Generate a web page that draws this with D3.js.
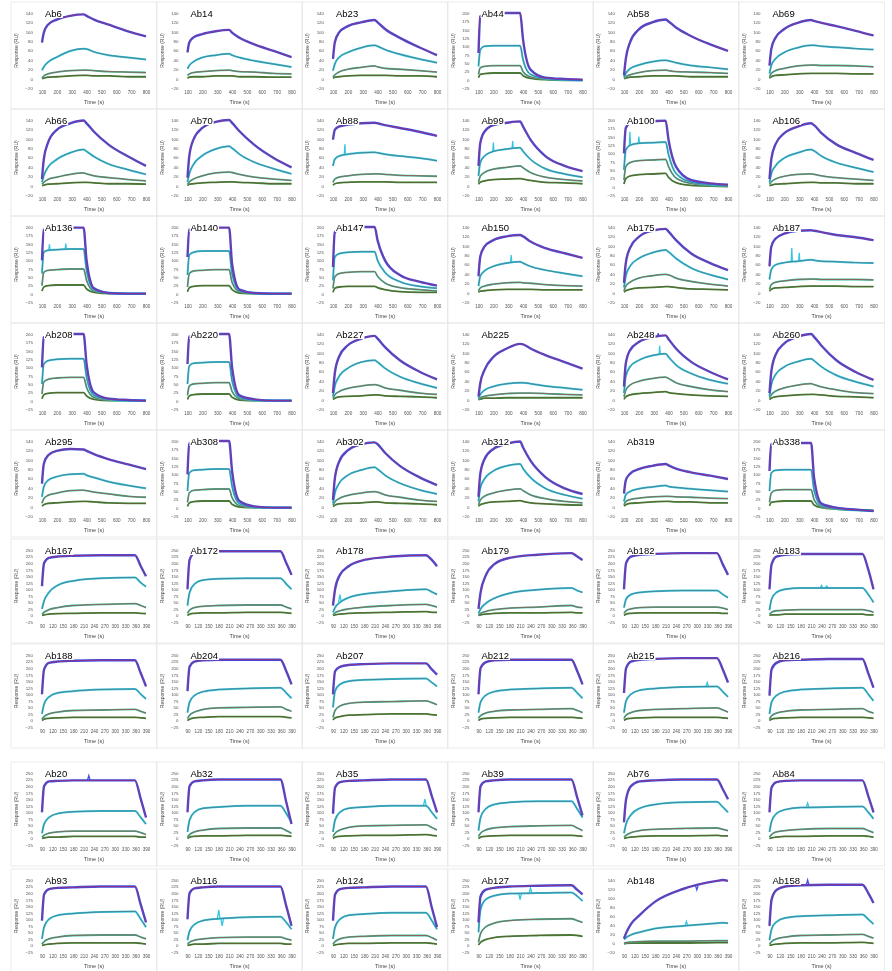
<!DOCTYPE html>
<html>
<head>
<meta charset="utf-8">
<script src="https://cdn.jsdelivr.net/npm/d3@7"></script>
<style>
  body { margin: 0; background: #fff; }
  svg { font-family: "Liberation Sans", Arial, sans-serif; filter: blur(0.3px); }
</style>
</head>
<body>
<script>
var w = 892,
    h = 971;

// sample times (s) for the two experiment layouts
var timesA = [100, 112, 140, 200, 290, 380, 400, 450, 550, 680, 800];
var timesB = [90, 96, 110, 135, 180, 260, 358, 375, 390];
var xTicksA = [100, 200, 300, 400, 500, 600, 700, 800];
var xTicksB = [90, 120, 150, 180, 210, 240, 270, 300, 330, 360, 390];

// each panel: name, y min, y max, y step, then 4 response curves (RU), highest conc. first
var row1 = [
  ['Ab6', -20, 140, 20, [77, 98, 115, 126, 134, 137, 134, 126, 115, 101, 90], [18, 25, 35, 46, 59, 64, 63, 57, 50, 45, 41], [1, 6, 10, 14, 17, 18, 18, 17, 15, 14, 13], [0, 1, 3, 4, 6, 7, 7, 6, 6, 4, 4]],
  ['Ab14', -20, 140, 20, [56, 77, 88, 95, 101, 104, 98, 87, 73, 59, 46], [21, 28, 36, 45, 50, 53, 50, 45, 38, 31, 25], [7, 10, 13, 15, 17, 18, 17, 15, 14, 11, 10], [1, 3, 4, 4, 6, 6, 6, 4, 4, 3, 3]],
  ['Ab23', -20, 140, 20, [42, 77, 98, 112, 120, 125, 120, 106, 87, 67, 50], [17, 31, 45, 56, 66, 71, 69, 62, 52, 42, 34], [4, 8, 14, 20, 24, 27, 25, 22, 20, 17, 14], [1, 3, 4, 6, 7, 7, 7, 7, 6, 6, 4]],
  ['Ab44', -25, 200, 25, [80, 190, 196, 198, 200, 200, 120, 30, 6, 2, 0], [40, 90, 100, 102, 102, 102, 60, 16, 4, 0, -2], [16, 36, 40, 42, 42, 42, 24, 8, 2, 0, -2], [6, 16, 18, 20, 20, 20, 12, 4, 0, -2, -2]],
  ['Ab58', -20, 140, 20, [7, 42, 77, 105, 120, 126, 122, 109, 91, 73, 59], [3, 11, 21, 29, 36, 39, 38, 34, 28, 24, 20], [1, 4, 8, 13, 17, 18, 17, 15, 14, 13, 11], [0, 1, 3, 4, 6, 6, 6, 6, 4, 4, 4]],
  ['Ab69', -20, 140, 20, [28, 63, 87, 106, 119, 125, 123, 119, 112, 102, 92], [11, 28, 42, 56, 66, 71, 71, 69, 67, 64, 62], [4, 11, 17, 22, 27, 29, 29, 28, 28, 27, 25], [1, 4, 7, 8, 10, 11, 11, 11, 11, 10, 10]]
];
var row2 = [
  ['Ab66', -20, 140, 20, [14, 56, 91, 119, 133, 139, 133, 115, 87, 62, 42], [7, 21, 39, 56, 70, 77, 73, 62, 46, 34, 24], [3, 7, 13, 18, 24, 27, 25, 21, 17, 13, 10], [0, 1, 3, 4, 6, 7, 7, 6, 4, 4, 3]],
  ['Ab70', -20, 140, 20, [17, 63, 98, 123, 136, 140, 134, 116, 87, 59, 39], [8, 25, 45, 64, 78, 84, 80, 67, 50, 36, 25], [3, 8, 14, 21, 27, 29, 28, 24, 18, 14, 11], [0, 3, 4, 6, 7, 8, 8, 7, 6, 4, 4]],
  ['Ab88', -20, 140, 20, [98, 119, 126, 130, 133, 134, 133, 129, 123, 115, 106], [42, 56, 63, 67, 70, 71, 70, 67, 63, 59, 53], [7, 14, 18, 21, 24, 25, 25, 24, 22, 21, 20], [1, 4, 6, 7, 8, 8, 8, 8, 7, 7, 7]],
  ['Ab99', -20, 140, 20, [42, 91, 115, 129, 134, 137, 126, 98, 63, 42, 31], [21, 49, 63, 73, 78, 81, 73, 56, 36, 25, 18], [7, 20, 28, 35, 39, 42, 38, 28, 18, 13, 10], [3, 7, 10, 13, 14, 15, 14, 11, 7, 6, 4]],
  ['Ab100', -25, 200, 25, [100, 176, 190, 194, 196, 198, 140, 60, 20, 10, 6], [50, 110, 124, 130, 132, 134, 96, 40, 14, 6, 4], [20, 60, 72, 78, 80, 82, 60, 26, 10, 4, 2], [8, 24, 32, 36, 38, 40, 28, 12, 4, 2, 0]],
  ['Ab106', -20, 140, 20, [14, 56, 88, 112, 126, 133, 129, 112, 88, 70, 55], [7, 25, 42, 59, 70, 77, 74, 63, 49, 38, 29], [3, 8, 14, 20, 24, 25, 24, 21, 17, 14, 11], [0, 1, 3, 4, 6, 7, 7, 6, 6, 4, 4]]
];
var row3 = [
  ['Ab136', -25, 200, 25, [100, 192, 196, 198, 198, 198, 100, 16, 2, 0, 0], [60, 124, 130, 132, 134, 134, 70, 12, 2, 0, 0], [24, 64, 70, 72, 74, 74, 40, 8, 2, 0, 0], [8, 20, 24, 26, 26, 26, 14, 4, 0, 0, 0]],
  ['Ab140', -25, 200, 25, [110, 192, 196, 198, 198, 198, 90, 12, 2, 0, 0], [56, 116, 124, 128, 128, 128, 60, 10, 2, 0, 0], [20, 60, 68, 70, 72, 72, 34, 6, 0, 0, 0], [6, 18, 22, 24, 24, 24, 12, 2, 0, 0, 0]],
  ['Ab147', -25, 200, 25, [80, 184, 194, 198, 200, 200, 160, 100, 56, 36, 24], [40, 110, 120, 124, 126, 126, 100, 64, 36, 22, 16], [16, 50, 60, 64, 66, 66, 52, 32, 18, 12, 8], [4, 16, 20, 22, 22, 22, 18, 12, 6, 4, 4]],
  ['Ab150', -20, 140, 20, [35, 77, 98, 112, 120, 123, 120, 109, 95, 84, 74], [14, 35, 46, 56, 63, 66, 63, 56, 48, 41, 35], [4, 10, 14, 18, 21, 22, 21, 20, 17, 15, 14], [1, 3, 4, 6, 7, 7, 7, 7, 6, 6, 6]],
  ['Ab175', -20, 140, 20, [21, 63, 95, 119, 132, 136, 130, 112, 84, 63, 48], [11, 35, 56, 73, 85, 91, 87, 73, 53, 38, 28], [4, 14, 22, 31, 36, 39, 38, 31, 24, 18, 14], [1, 4, 7, 10, 11, 13, 13, 11, 8, 7, 6]],
  ['Ab187', -20, 140, 20, [56, 98, 115, 126, 132, 133, 132, 129, 123, 118, 112], [28, 49, 59, 64, 67, 70, 69, 67, 66, 64, 63], [7, 17, 22, 25, 28, 29, 29, 28, 28, 28, 27], [3, 7, 10, 11, 13, 14, 14, 14, 14, 13, 13]]
];
var row4 = [
  ['Ab208', -25, 200, 25, [100, 190, 196, 198, 200, 200, 110, 24, 6, 2, 0], [50, 110, 120, 124, 126, 126, 70, 16, 4, 0, 0], [20, 56, 64, 68, 70, 70, 40, 10, 2, 0, 0], [6, 18, 22, 24, 24, 24, 14, 4, 0, 0, 0]],
  ['Ab220', -25, 200, 25, [110, 192, 198, 200, 200, 200, 100, 16, 4, 0, 0], [50, 104, 112, 114, 116, 116, 60, 10, 2, 0, 0], [16, 44, 50, 52, 54, 54, 28, 6, 0, 0, 0], [4, 14, 18, 20, 20, 20, 10, 2, 0, 0, 0]],
  ['Ab227', -20, 140, 20, [14, 56, 91, 116, 130, 136, 130, 112, 84, 60, 43], [7, 28, 49, 67, 80, 84, 80, 67, 49, 35, 25], [3, 10, 17, 24, 29, 32, 31, 25, 20, 14, 11], [0, 3, 6, 7, 8, 10, 10, 8, 7, 6, 4]],
  ['Ab225', -20, 140, 20, [7, 35, 63, 91, 109, 119, 118, 109, 95, 80, 66], [3, 11, 20, 28, 34, 36, 36, 34, 29, 25, 21], [1, 4, 7, 10, 13, 14, 14, 14, 13, 11, 10], [0, 1, 3, 3, 4, 4, 4, 4, 4, 4, 4]],
  ['Ab248', -20, 140, 20, [28, 77, 105, 123, 133, 137, 129, 109, 81, 59, 43], [14, 49, 70, 84, 94, 98, 91, 74, 56, 42, 34], [6, 20, 31, 39, 45, 48, 45, 36, 28, 21, 17], [1, 6, 10, 13, 15, 17, 15, 13, 10, 8, 7]],
  ['Ab260', -20, 140, 20, [14, 59, 95, 120, 134, 140, 134, 115, 84, 59, 42], [7, 31, 53, 70, 81, 87, 83, 70, 52, 38, 28], [3, 10, 18, 25, 31, 34, 32, 27, 21, 15, 13], [0, 3, 6, 8, 10, 11, 11, 10, 7, 6, 4]]
];
var row5 = [
  ['Ab295', -20, 140, 20, [49, 91, 109, 119, 123, 122, 119, 112, 101, 90, 80], [21, 42, 56, 64, 69, 70, 67, 62, 53, 45, 39], [7, 17, 24, 29, 34, 35, 34, 31, 27, 22, 20], [1, 4, 7, 8, 10, 11, 11, 10, 8, 7, 7]],
  ['Ab308', -25, 200, 25, [100, 192, 198, 200, 200, 200, 110, 20, 4, 0, 0], [50, 104, 112, 114, 116, 116, 64, 12, 2, 0, 0], [16, 44, 52, 54, 56, 56, 30, 6, 0, 0, 0], [4, 14, 18, 20, 20, 20, 10, 2, 0, 0, 0]],
  ['Ab302', -20, 140, 20, [14, 59, 95, 120, 133, 137, 133, 115, 87, 63, 46], [7, 28, 49, 67, 78, 84, 80, 67, 50, 36, 27], [3, 10, 17, 24, 29, 32, 31, 25, 20, 14, 11], [0, 3, 6, 7, 8, 10, 10, 8, 7, 6, 4]],
  ['Ab312', -20, 140, 20, [21, 70, 101, 123, 134, 139, 126, 98, 63, 39, 27], [11, 39, 59, 76, 87, 91, 81, 62, 39, 25, 17], [4, 14, 22, 29, 35, 38, 34, 25, 17, 11, 8], [1, 4, 7, 10, 11, 13, 11, 8, 6, 4, 3]],
  ['Ab319', -20, 140, 20, [28, 56, 70, 80, 87, 91, 88, 81, 73, 66, 59], [11, 25, 32, 38, 42, 45, 43, 41, 38, 35, 32], [4, 11, 15, 18, 21, 22, 22, 21, 20, 18, 17], [1, 4, 7, 8, 10, 11, 11, 10, 10, 8, 8]],
  ['Ab338', -25, 200, 25, [110, 190, 194, 194, 194, 194, 90, 12, 0, -6, -10], [50, 104, 112, 114, 114, 114, 52, 6, -2, -6, -10], [16, 44, 52, 54, 54, 54, 24, 2, -4, -8, -10], [6, 16, 18, 20, 20, 20, 8, 0, -4, -6, -8]]
];
var row6 = [
  ['Ab167', -25, 250, 25, [112, 200, 220, 225, 228, 230, 230, 188, 150], [25, 55, 88, 115, 132, 142, 145, 125, 110], [5, 12, 22, 30, 38, 42, 45, 38, 30], [0, 2, 5, 7, 8, 10, 10, 8, 7]],
  ['Ab172', -25, 250, 25, [100, 212, 238, 242, 245, 245, 245, 200, 155], [38, 88, 120, 135, 140, 142, 142, 120, 100], [8, 20, 30, 35, 38, 40, 40, 32, 25], [0, 5, 8, 10, 10, 12, 12, 10, 8]],
  ['Ab178', -25, 250, 25, [38, 100, 155, 188, 212, 225, 230, 212, 188], [12, 30, 50, 68, 82, 92, 100, 90, 80], [2, 10, 18, 25, 32, 38, 42, 38, 32], [0, 2, 5, 8, 10, 12, 15, 12, 12]],
  ['Ab179', -25, 250, 25, [25, 88, 150, 195, 220, 232, 238, 225, 212], [8, 25, 45, 65, 85, 98, 105, 95, 88], [2, 8, 15, 22, 28, 32, 38, 32, 30], [0, 2, 5, 8, 10, 10, 12, 10, 10]],
  ['Ab182', -25, 250, 25, [100, 200, 225, 232, 235, 238, 238, 195, 155], [30, 62, 80, 88, 92, 95, 95, 80, 68], [8, 18, 25, 30, 32, 32, 32, 28, 22], [0, 5, 8, 10, 10, 10, 10, 8, 8]],
  ['Ab183', -25, 250, 25, [100, 195, 225, 232, 235, 235, 235, 175, 100], [20, 62, 88, 100, 105, 105, 105, 80, 50], [5, 12, 18, 20, 22, 22, 22, 18, 12], [0, 2, 2, 5, 5, 5, 5, 2, 2]]
];
var row7 = [
  ['Ab188', -25, 250, 25, [100, 195, 220, 225, 228, 230, 230, 180, 130], [25, 62, 90, 105, 112, 118, 120, 100, 82], [5, 15, 25, 32, 38, 40, 42, 35, 28], [0, 5, 8, 10, 12, 12, 12, 10, 8]],
  ['Ab204', -25, 250, 25, [112, 205, 225, 230, 232, 232, 232, 188, 138], [30, 70, 95, 110, 118, 122, 125, 105, 85], [8, 20, 32, 42, 48, 50, 52, 42, 35], [0, 5, 10, 12, 15, 15, 15, 12, 10]],
  ['Ab207', -25, 250, 25, [100, 188, 205, 212, 215, 218, 218, 195, 175], [50, 112, 138, 150, 155, 158, 160, 145, 130], [12, 38, 55, 65, 70, 72, 75, 68, 60], [2, 10, 15, 20, 22, 25, 25, 22, 20]],
  ['Ab212', -25, 250, 25, [100, 200, 222, 230, 232, 232, 232, 188, 138], [30, 70, 95, 110, 118, 122, 125, 105, 85], [8, 18, 28, 35, 40, 42, 45, 38, 30], [0, 5, 8, 10, 12, 12, 12, 10, 8]],
  ['Ab215', -25, 250, 25, [105, 200, 225, 232, 235, 238, 238, 195, 145], [30, 75, 100, 115, 122, 128, 130, 110, 90], [8, 20, 30, 38, 42, 45, 48, 40, 32], [0, 5, 8, 10, 12, 12, 12, 10, 8]],
  ['Ab216', -25, 250, 25, [95, 195, 220, 230, 232, 235, 235, 180, 125], [25, 70, 95, 110, 118, 122, 125, 100, 75], [5, 18, 28, 35, 40, 42, 45, 35, 28], [0, 5, 8, 10, 12, 12, 12, 10, 8]]
];
var row8 = [
  ['Ab20', -25, 250, 25, [100, 200, 218, 220, 222, 222, 222, 150, 80], [20, 55, 80, 95, 102, 105, 105, 80, 55], [5, 12, 20, 25, 28, 28, 28, 22, 15], [0, 2, 5, 5, 8, 8, 8, 5, 5]],
  ['Ab32', -25, 250, 25, [100, 200, 218, 222, 225, 225, 225, 138, 55], [25, 70, 100, 115, 120, 125, 125, 95, 62], [5, 15, 25, 32, 38, 40, 40, 30, 20], [0, 5, 8, 10, 10, 12, 12, 10, 8]],
  ['Ab35', -25, 250, 25, [95, 195, 215, 220, 222, 225, 225, 162, 100], [25, 70, 100, 115, 120, 125, 125, 100, 75], [8, 20, 32, 42, 48, 50, 52, 42, 32], [0, 5, 8, 10, 12, 12, 15, 12, 10]],
  ['Ab39', -25, 250, 25, [100, 200, 218, 222, 225, 225, 225, 155, 88], [30, 80, 112, 130, 138, 142, 142, 112, 80], [8, 20, 32, 40, 45, 48, 50, 40, 30], [0, 5, 8, 10, 12, 12, 12, 10, 8]],
  ['Ab76', -25, 250, 25, [62, 150, 200, 218, 222, 225, 225, 188, 150], [20, 55, 90, 115, 130, 138, 140, 120, 100], [5, 12, 22, 30, 35, 38, 40, 35, 30], [0, 2, 5, 8, 10, 10, 12, 10, 10]],
  ['Ab84', -25, 250, 25, [100, 195, 215, 220, 222, 222, 222, 162, 100], [25, 65, 95, 110, 118, 120, 122, 100, 75], [5, 15, 25, 30, 35, 38, 38, 30, 22], [0, 2, 5, 8, 8, 10, 10, 8, 5]]
];
var row9 = [
  ['Ab93', -25, 250, 25, [95, 195, 215, 220, 222, 225, 225, 155, 88], [25, 70, 100, 115, 122, 128, 130, 100, 70], [5, 15, 25, 32, 38, 40, 40, 32, 25], [0, 2, 5, 8, 10, 10, 10, 8, 5]],
  ['Ab116', -25, 250, 25, [100, 200, 218, 222, 225, 225, 225, 150, 75], [20, 55, 80, 95, 102, 108, 110, 88, 62], [5, 12, 20, 25, 30, 32, 32, 25, 20], [0, 2, 5, 5, 8, 8, 8, 5, 5]],
  ['Ab124', -25, 250, 25, [95, 195, 215, 220, 222, 225, 225, 145, 70], [25, 70, 100, 115, 120, 125, 125, 95, 62], [5, 15, 25, 32, 35, 38, 38, 30, 20], [0, 2, 5, 8, 8, 10, 10, 8, 5]],
  ['Ab127', -25, 250, 25, [88, 188, 212, 220, 225, 228, 230, 212, 195], [50, 138, 175, 190, 198, 200, 202, 188, 170], [12, 45, 70, 85, 95, 100, 102, 95, 88], [2, 12, 22, 30, 35, 38, 40, 38, 35]],
  ['Ab148', -20, 140, 20, [10, 22, 42, 62, 92, 120, 138, 140, 138], [8, 12, 18, 24, 32, 38, 44, 45, 44], [0, 1, 2, 3, 4, 4, 5, 5, 5], [-2, -1, 0, 0, 0, 0, 1, 1, 1]],
  ['Ab158', -25, 250, 25, [75, 175, 212, 225, 230, 232, 232, 200, 162], [20, 62, 90, 105, 112, 115, 118, 100, 82], [5, 15, 25, 32, 38, 40, 42, 35, 28], [0, 2, 5, 8, 10, 10, 12, 10, 8]]
];

// injection spikes seen on the measured traces: panel, curve, time (s), base RU, peak RU
var spikes = [
  ['Ab88', 1, 180, 66, 88],
  ['Ab99', 1, 200, 73, 92], ['Ab99', 1, 330, 80, 95],
  ['Ab100', 1, 140, 124, 165], ['Ab100', 1, 200, 130, 150],
  ['Ab136', 1, 150, 130, 148], ['Ab136', 1, 260, 134, 150],
  ['Ab150', 1, 320, 64, 80],
  ['Ab187', 1, 250, 66, 95], ['Ab187', 1, 300, 67, 85],
  ['Ab248', 0, 330, 135, 142], ['Ab248', 1, 340, 96, 115],
  ['Ab20', 0, 225, 222, 240],
  ['Ab35', 1, 355, 125, 150],
  ['Ab116', 1, 180, 102, 135], ['Ab116', 1, 190, 103, 75],
  ['Ab127', 1, 210, 199, 175], ['Ab127', 1, 240, 200, 220],
  ['Ab148', 1, 270, 38, 48], ['Ab148', 0, 300, 128, 118],
  ['Ab158', 0, 200, 230, 250],
  ['Ab178', 1, 110, 50, 80],
  ['Ab215', 1, 330, 129, 145],
  ['Ab84', 1, 200, 118, 135],
  ['Ab183', 1, 240, 105, 115], ['Ab183', 1, 255, 105, 113]
];

var rowsA = [row1, row2, row3, row4, row5];
var rowsB = [row6, row7, row8, row9];

var svg = d3.select('body')
            .append('svg')
            .attr('width', w)
            .attr('height', h);

// trace colours (measured) and fitted-model colours
var dataColors = ['#3d4fe4', '#34c6e0', '#2dbf9f', '#3a9440'];
var fitColors  = ['#b3265c', '#4e6c78', '#b5403c', '#6e4a2c'];
var dataWidths = [2.4, 2.0, 1.8, 1.8];

var plotW = 104;

function drawPanel(p, left, top, ph, times, xDom, xTicks) {
  var name = p[0];
  var g = svg.append('g');

  // faint frame round each panel
  g.append('rect')
   .attr('x', left - 31)
   .attr('y', top - 11)
   .attr('width', 146)
   .attr('height', ph + 32)
   .style('fill', 'none')
   .style('stroke', '#e6e6e6')
   .style('stroke-width', 0.8);

  var x = d3.scaleLinear().domain(xDom).range([left, left + plotW]);
  var y = d3.scaleLinear().domain([p[1], p[2]]).range([top + ph, top]);

  var yAxis = d3.axisLeft(y)
                .tickValues(d3.range(p[1], p[2] + 0.1, p[3]))
                .tickSize(0)
                .tickPadding(0);
  g.append('g')
   .attr('transform', 'translate(' + (left - 9) + ',0)')
   .call(yAxis)
   .call(function(s) { s.select('.domain').remove(); })
   .selectAll('text')
   .style('font-size', '4.4px')
   .style('fill', '#555');

  var xAxis = d3.axisBottom(x)
                .tickValues(xTicks)
                .tickSize(0)
                .tickPadding(0);
  g.append('g')
   .attr('transform', 'translate(0,' + (top + ph + 3) + ')')
   .call(xAxis)
   .call(function(s) { s.select('.domain').remove(); })
   .selectAll('text')
   .style('font-size', '4.6px')
   .style('fill', '#555');

  g.append('text')
   .attr('x', left + plotW / 2)
   .attr('y', top + ph + 16)
   .attr('text-anchor', 'middle')
   .style('font-size', '5.5px')
   .style('fill', '#444')
   .text('Time (s)');

  g.append('text')
   .attr('transform', 'translate(' + (left - 24) + ',' + (top + ph / 2) + ') rotate(-90)')
   .attr('text-anchor', 'middle')
   .style('font-size', '5px')
   .style('fill', '#444')
   .text('Response (RU)');

  var series = [p[4], p[5], p[6], p[7]];

  var line = d3.line()
               .x(function(d, i) { return x(times[i]); })
               .y(function(d) { return y(d); })
               .curve(d3.curveMonotoneX);

  // draw lowest concentration first so the top curve sits above
  for (var k = 3; k >= 0; k--) {
    g.append('path')
     .attr('d', line(series[k]))
     .style('fill', 'none')
     .style('stroke', dataColors[k])
     .style('stroke-width', dataWidths[k])
     .style('stroke-linejoin', 'round');

    spikes.filter(function(s) { return s[0] === name && s[1] === k; })
          .forEach(function(s) {
            g.append('path')
             .attr('d', 'M' + x(s[2] - 4) + ',' + y(s[3]) +
                        'L' + x(s[2]) + ',' + y(s[4]) +
                        'L' + x(s[2] + 4) + ',' + y(s[3]))
             .style('fill', 'none')
             .style('stroke', dataColors[k])
             .style('stroke-width', 1.3);
          });

    // fitted model on top of the trace
    g.append('path')
     .attr('d', line(series[k]))
     .style('fill', 'none')
     .style('stroke', fitColors[k])
     .style('stroke-width', 0.9)
     .style('opacity', 0.8);
  }

  // antibody label on a white patch
  var patch = g.append('rect').style('fill', '#fff');
  var lab = g.append('text')
             .attr('x', left + 3)
             .attr('y', top + 4)
             .style('font-size', '9.5px')
             .style('fill', '#000')
             .text(name);
  var bb = lab.node().getBBox();
  patch.attr('x', bb.x - 1)
       .attr('y', bb.y + 1)
       .attr('width', bb.width + 2)
       .attr('height', bb.height - 2);
}

var topsA = [13, 120, 227, 334, 441];
var topsB = [550, 655, 773, 880];

rowsA.forEach(function(row, r) {
  row.forEach(function(p, c) {
    drawPanel(p, 42 + c * 145.5, topsA[r], 75, timesA, [100, 800], xTicksA);
  });
});

rowsB.forEach(function(row, r) {
  row.forEach(function(p, c) {
    drawPanel(p, 42 + c * 145.5, topsB[r], 72, timesB, [90, 390], xTicksB);
  });
});
</script>
</body>
</html>
